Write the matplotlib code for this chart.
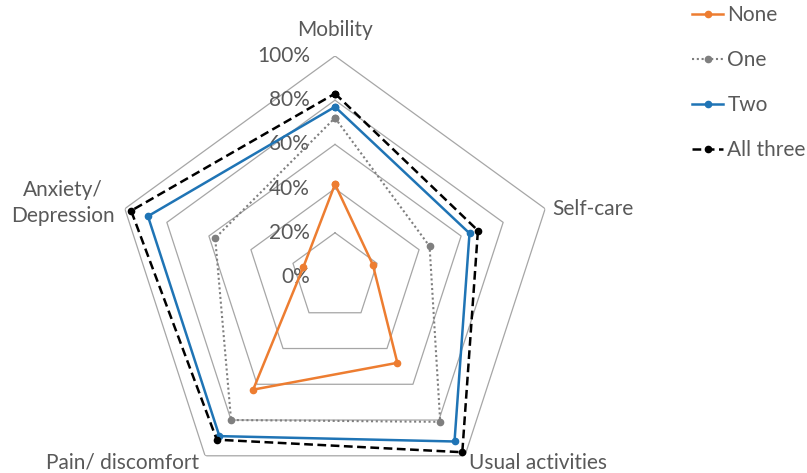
import numpy as np
import matplotlib
matplotlib.use('Agg')
import matplotlib.pyplot as plt

# categories and values (fraction of respondents)
categories = ['Mobility', 'Self-care', 'Usual activities', 'Pain/ discomfort', 'Anxiety/\nDepression']
none_vals = [0.42, 0.18, 0.48, 0.63, 0.15]
one_vals = [0.72, 0.45, 0.81, 0.80, 0.57]
two_vals = [0.77, 0.64, 0.92, 0.89, 0.89]
all_vals = [0.83, 0.68, 0.98, 0.91, 0.97]
ring_vals = [0.2, 0.4, 0.6, 0.8, 1.0]
tick_labels = ['0%', '20%', '40%', '60%', '80%', '100%']

plt.rcParams['font.family'] = ['Lato', 'DejaVu Sans']
txt_col = '#595959'
fs = 15

fig = plt.figure(figsize=(8.07, 4.73), dpi=100)
# centre at (335, 277) px, radius 221 px
ax = fig.add_axes([114/807, -25/473, 442/807, 442/473], projection='polar')
ax.set_theta_zero_location('N')
ax.set_theta_direction(-1)
ax.set_ylim(0, 1)
ax.axis('off')

n = len(categories)
theta = np.linspace(0, 2*np.pi, n, endpoint=False)
theta_c = np.append(theta, theta[0])

def closed(v):
    return np.append(v, v[0])

# pentagon grid
for r in ring_vals:
    ax.plot(theta_c, [r]*(n+1), color='#A6A6A6', lw=0.9, zorder=1)

# value labels along the top spoke
for i, lab in enumerate(tick_labels):
    ax.annotate(lab, xy=(0, i*0.2), xytext=(-18, 0), textcoords='offset points',
                ha='right', va='center', fontsize=fs, color=txt_col)

# category labels
offsets = [(0, 19, 'center'), (5, 0, 'left'), (3, -5, 'left'), (-4, -5, 'right'), (-7, 4, 'right')]
for t, lab, (dx, dy, ha) in zip(theta, categories, offsets):
    ax.annotate(lab, xy=(t, 1.0), xytext=(dx, dy), textcoords='offset points',
                ha=ha, va='center', fontsize=fs, color=txt_col,
                multialignment='center', linespacing=1.35, annotation_clip=False)

ax.plot(theta_c, closed(none_vals), color='#ED7D31', lw=1.8, marker='o', ms=4.5,
        label='None', zorder=3)
ax.plot(theta_c, closed(one_vals), color='#7F7F7F', lw=1.5, ls=(0, (1, 1.3)),
        marker='o', ms=4.5, label='One', zorder=3)
ax.plot(theta_c, closed(two_vals), color='#1F74B5', lw=1.8, marker='o', ms=4.5,
        label='Two', zorder=4)
ax.plot(theta_c, closed(all_vals), color='black', lw=1.8, ls=(0, (3.5, 1.8)),
        marker='o', ms=4.5, label='All three', zorder=5)

leg = fig.legend(loc='upper left', bbox_to_anchor=(692/807, 1 - 5/473), frameon=False,
                 fontsize=fs, handlelength=1.5, handletextpad=0.2, labelspacing=1.2,
                 borderaxespad=0, borderpad=0.0)
for t in leg.get_texts():
    t.set_color(txt_col)

fig.savefig('out.png', dpi=100)
